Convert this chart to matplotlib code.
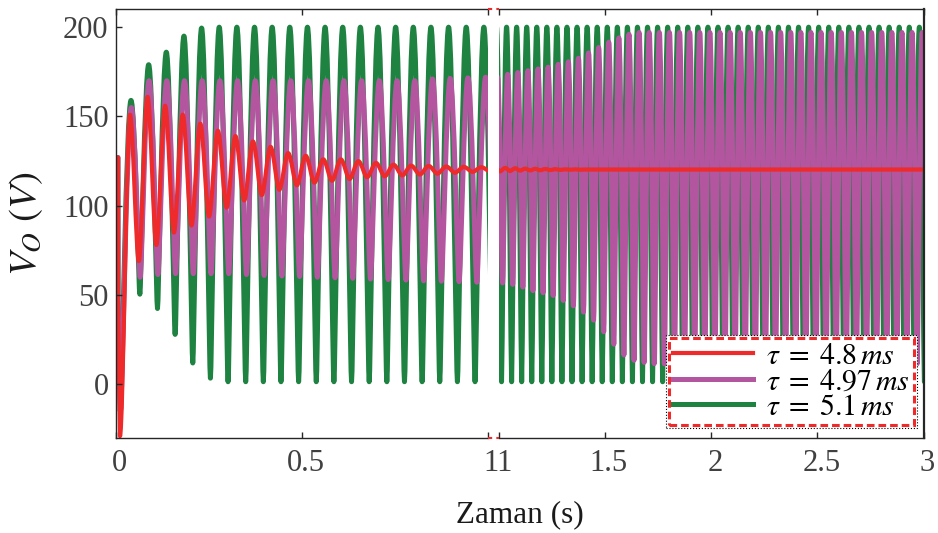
import numpy as np
import matplotlib
matplotlib.use("Agg")
import matplotlib.pyplot as plt
from matplotlib.lines import Line2D
from matplotlib.patches import Rectangle, PathPatch
from matplotlib.path import Path
from matplotlib.transforms import ScaledTranslation

plt.rcParams['font.family'] = ['Liberation Serif', 'DejaVu Serif']
plt.rcParams['mathtext.fontset'] = 'stix'

# timing of the oscillation (first peak, period)
red_t0, red_period = 0.039, 0.0472
purple_t0, purple_period = 0.0425, 0.0476
green_t0, green_period = 0.0417, 0.0474

# start-up transient (t, V)
red_start_t = [0.0, 0.0065, 0.0068, 0.012]
red_start_v = [127, 127, 47, -29]
start_t = [0.0, 0.0065, 0.0068, 0.013]
start_v = [127, 127, 47, -15]

# peak / trough values of each cycle
red_peaks = [151, 161, 156, 151, 146, 142, 139, 136, 133, 129.5, 128, 126, 126,
             125, 124, 123, 122.5, 122.3, 122, 121.8, 121.6, 121.2, 121, 120.8,
             120.7, 120.6, 120.5, 120.4, 120.4, 120.3, 120.3]
red_troughs = [69, 78, 85, 89, 94, 99, 103, 106, 109, 111.5, 113, 114, 115, 116,
               116.5, 117, 117.5, 118, 118.5, 119, 119.3, 119.5, 119.7, 119.8,
               119.9, 120, 120.1, 120.2, 120.2, 120.3, 120.3]
red_end = (3.0, 120.3)

purple_peaks = ([155] + [170] * 16 + [171, 171.3, 171.6, 172] +
                [173.6, 174.6, 175.6, 176.6, 177.6, 179.2, 180.6, 182.6, 185.6,
                 188.6, 191.6, 194, 196] + [197] * 29)
purple_troughs = ([60, 61.5, 62, 62, 62, 62, 61.5, 61, 60.7, 60.4, 60, 59.7, 59.4,
                   59, 58.7, 58.4, 58, 57.8, 57.5, 57.2] +
                  [56.8, 56, 54.5, 52.5, 51.3, 49.8, 47, 44, 40.5, 36, 29.5, 22.5,
                   16.5, 13.5, 12.3, 11.6] + [11.5] * 27)

green_peaks = [159, 179, 186, 195, 199.5] + [200] * 58
green_troughs = [50.5, 42.5, 28, 12, 3.5, 1.5] + [1.5] * 57

labels = [r'$\tau\;=\;4.8\,ms$', r'$\tau\;=\;4.97\,ms$', r'$\tau\;=\;5.1\,ms$']
colors = ['#EE2A2A', '#B455A0', '#1E8241']


def extrema(t0, period, peaks, troughs):
    k = np.arange(len(peaks))
    tp = t0 + k * period
    t = np.column_stack([tp, tp + period / 2]).ravel()
    v = np.column_stack([peaks, troughs]).ravel()
    return list(t), list(v)


def wave_path(t_lead, v_lead, t_ext, v_ext, c_top, c_bot):
    # straight lines for the start-up, then smooth bezier arcs between extrema
    verts = [(t_lead[0], v_lead[0])]
    codes = [Path.MOVETO]
    for t, v in zip(t_lead[1:], v_lead[1:]):
        verts.append((t, v))
        codes.append(Path.LINETO)
    pts = [(t_lead[-1], v_lead[-1])] + list(zip(t_ext, v_ext))
    for (ta, va), (tb, vb) in zip(pts[:-1], pts[1:]):
        d = tb - ta
        ca, cb = (c_top, c_bot) if va > vb else (c_bot, c_top)
        verts += [(ta + d * ca, va), (tb - d * cb, vb), (tb, vb)]
        codes += [Path.CURVE4] * 3
    return Path(verts, codes)


t_r, v_r = extrema(red_t0, red_period, red_peaks, red_troughs)
path_r = wave_path(red_start_t, red_start_v, t_r + [red_end[0]], v_r + [red_end[1]], 0.33, 0.3)
t_p, v_p = extrema(purple_t0, purple_period, purple_peaks, purple_troughs)
path_p = wave_path(start_t, start_v, t_p, v_p, 0.4, 0.18)
t_g, v_g = extrema(green_t0, green_period, green_peaks, green_troughs)
path_g = wave_path(start_t, start_v, t_g, v_g, 0.42, 0.12)

W, H = 938, 533
fig = plt.figure(figsize=(W / 100, H / 100), dpi=100)
ax1 = fig.add_axes([115.5 / W, 95 / H, 372.2 / W, 428.7 / H])
ax2 = fig.add_axes([498.7 / W, 95 / H, 424.8 / W, 428.7 / H])

for ax in (ax1, ax2):
    for path, col, lw in ((path_g, colors[2], 3.6), (path_p, colors[1], 3.6),
                          (path_r, colors[0], 3.0)):
        ax.add_patch(PathPatch(path, fill=False, edgecolor=col, lw=lw,
                               joinstyle='round', capstyle='round'))
    ax.set_ylim(-30, 210)
    ax.tick_params(direction='in', length=4, width=1, labelsize=22,
                   labelcolor='#404040', color='#262626', top=True, pad=8)
    for s in ax.spines.values():
        s.set_color('#262626')
        s.set_linewidth(1.0)

ax1.set_xlim(0, 1)
ax1.set_xticks([0, 0.5, 1])
ax1.set_xticklabels(['0', '0.5', ''])
ax1.set_yticks([0, 50, 100, 150, 200])
ax1.tick_params(axis='y', pad=5)
ax1.spines['right'].set_visible(False)

ax2.set_xlim(1, 3)
ax2.set_xticks([1, 1.5, 2, 2.5, 3])
ax2.set_xticklabels(['11', '1.5', '2', '2.5', '3'])
ax2.set_yticks([])
ax2.spines['left'].set_visible(False)
ax2.spines['right'].set_linewidth(1.6)

# tick labels sit a few pixels right of their ticks in the original
for ax in (ax1, ax2):
    for i, lab in enumerate(ax.get_xticklabels()):
        dx = -1 if (ax is ax2 and i == 0) else 4
        lab.set_transform(lab.get_transform() + ScaledTranslation(dx / 100, 0, fig.dpi_scale_trans))

# red dashed marks across the axis break
for yy in (95 / H, 523.7 / H):
    fig.add_artist(Line2D([487.7 / W, 498.7 / W], [yy, yy], color='#EE2A2A',
                          lw=1.5, ls=(0, (2, 2))))

fig.text(520 / W, 18 / H, 'Zaman (s)', ha='center', va='center', fontsize=22.5,
         color='#1a1a1a')
fig.text(26 / W, 309 / H, r'$V_O\ (V)$', ha='center', va='center', fontsize=28,
         rotation=90, color='#1a1a1a')

handles = [Line2D([], [], color=c, lw=lw) for c, lw in zip(colors, (3.0, 3.6, 3.6))]
leg = ax2.legend(handles, labels, loc='lower right', bbox_to_anchor=(0.978, 0.030),
                 borderaxespad=0, fontsize=21.5, handlelength=2.65, handletextpad=0.45,
                 labelspacing=-0.05, borderpad=0.15, fancybox=False, framealpha=1)
leg.get_frame().set_edgecolor('#EE2A2A')
leg.get_frame().set_linewidth(2.2)
leg.get_frame().set_linestyle((0, (2.5, 1.3)))
leg.set_zorder(6)

fig.canvas.draw()
bb = leg.get_window_extent().transformed(fig.transFigure.inverted())
px, py = 3 / W, 3 / H
outer = Rectangle((bb.x0 - px, bb.y0 - py), bb.width + 2 * px, bb.height + 2 * py,
                  transform=fig.transFigure, facecolor='white', edgecolor='black',
                  lw=0.8, ls=':', zorder=5.5, clip_on=False)
ax2.add_patch(outer)

fig.savefig('out.png', dpi=100)
